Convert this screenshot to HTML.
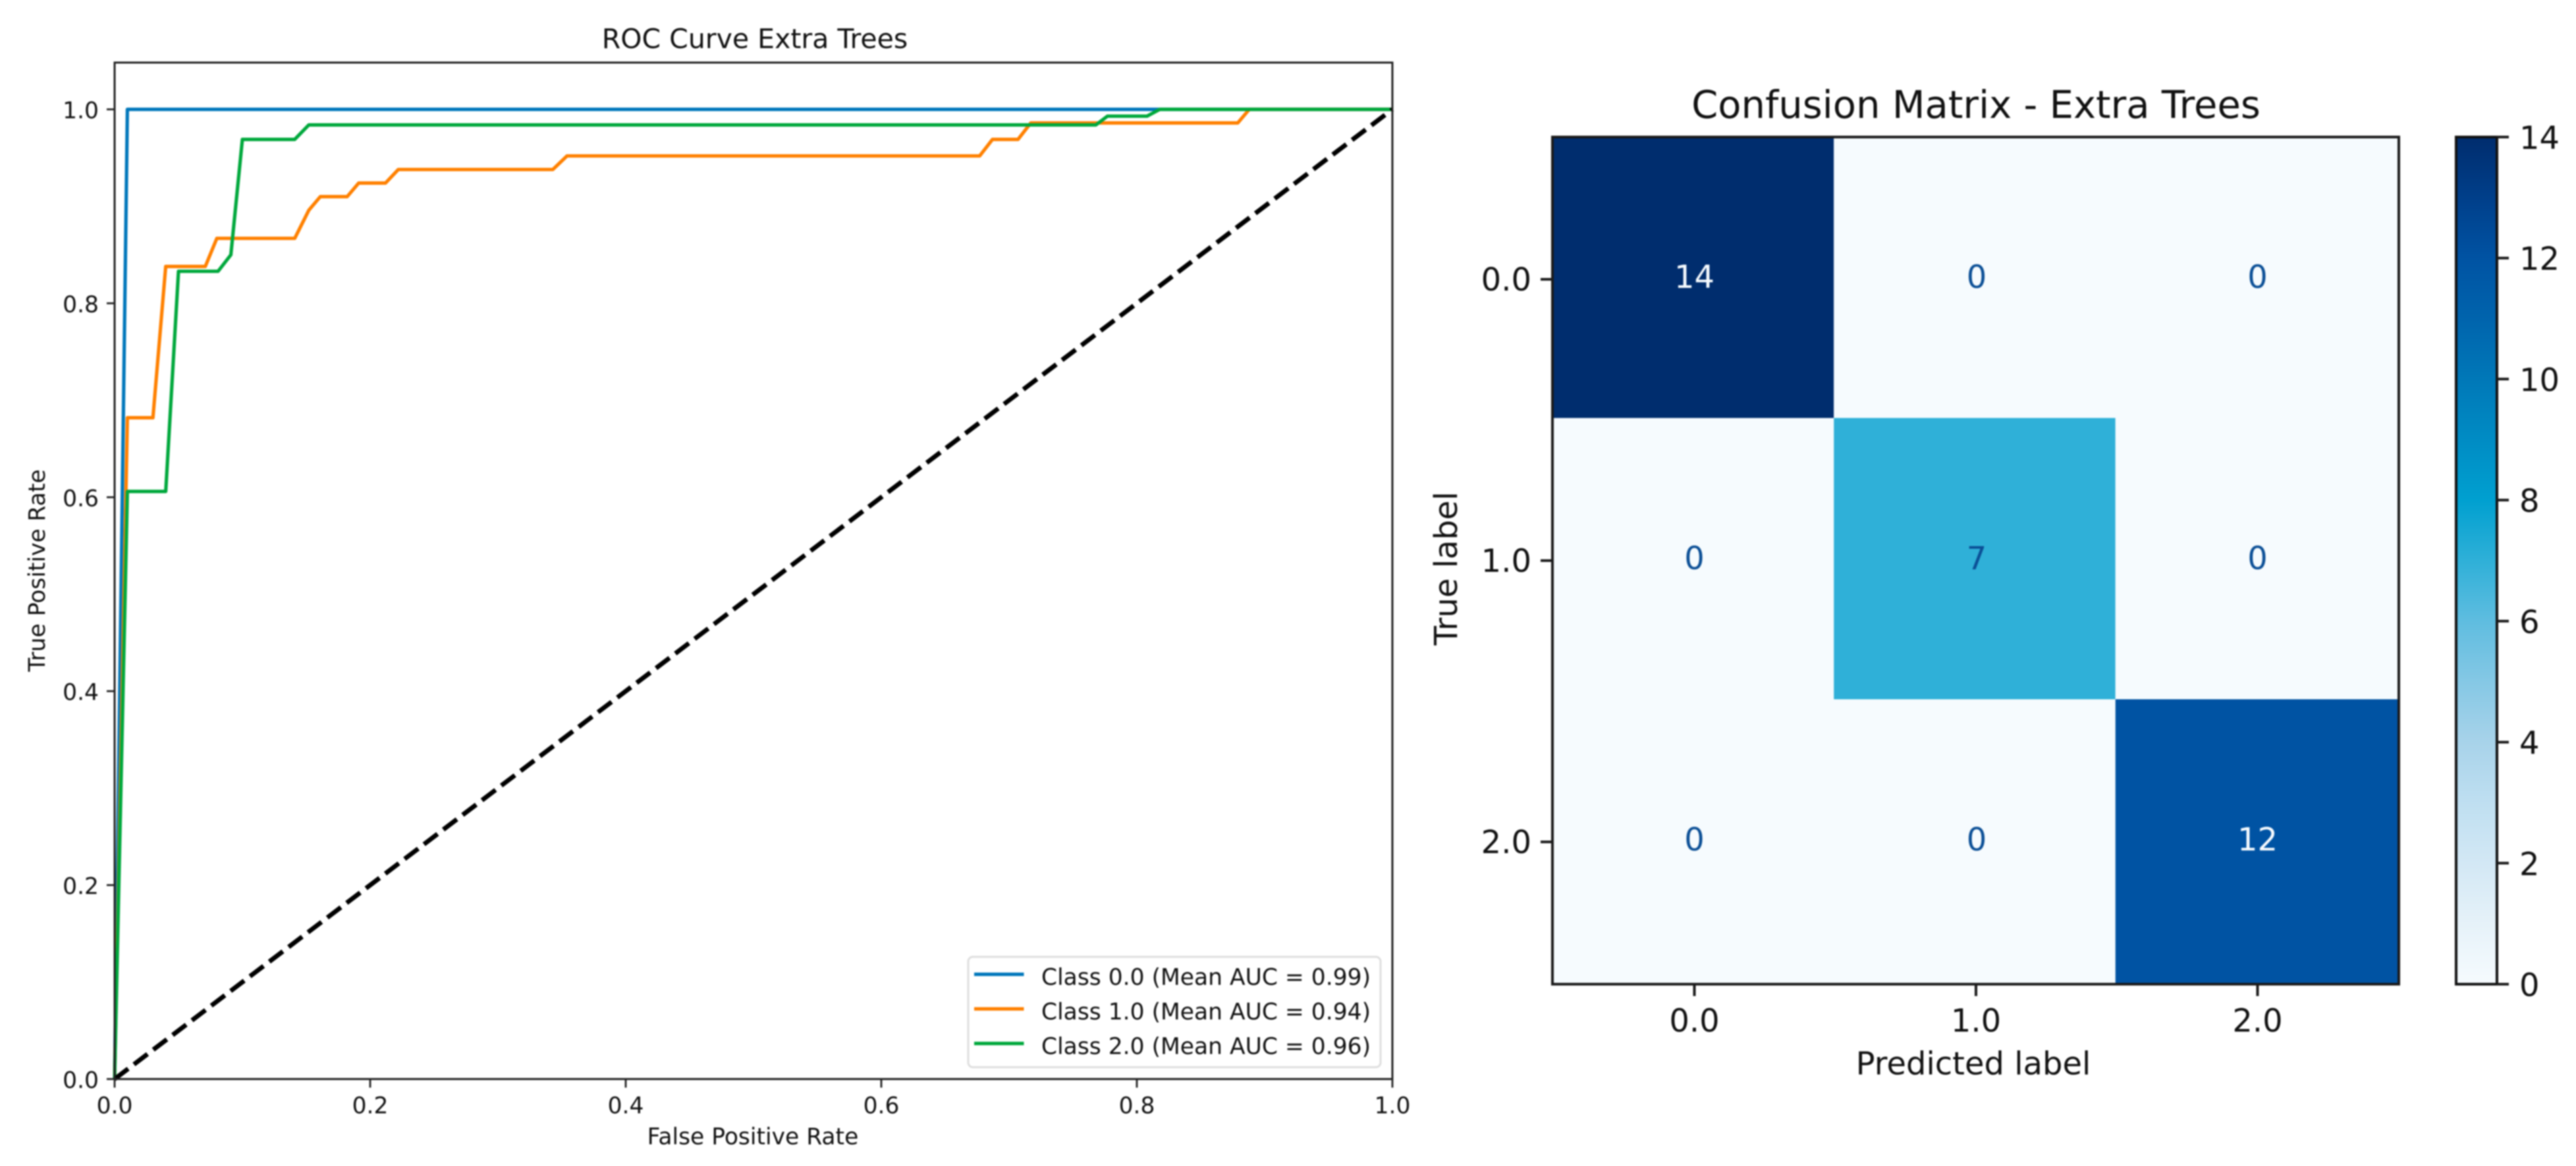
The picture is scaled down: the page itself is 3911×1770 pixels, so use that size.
<!DOCTYPE html>
<html lang="en">
<head>
<meta charset="utf-8">
<title>ROC Curve and Confusion Matrix - Extra Trees</title>
<style>
html,body{margin:0;padding:0;background:#fff;width:3911px;height:1770px;overflow:hidden}
svg{display:block;filter:blur(1px)}
text{font-family:"DejaVu Sans","Liberation Sans",sans-serif;fill:#111}
</style>
</head>
<body>
<svg id="fig" xmlns="http://www.w3.org/2000/svg" width="3911" height="1770" viewBox="0 0 3911 1770">
  <defs>
    <linearGradient id="cbar-gradient" x1="0" y1="1" x2="0" y2="0"></linearGradient>
  </defs>
  <rect x="0" y="0" width="3911" height="1770" fill="#fff"/>

  <g id="roc-panel">
    <text x="1146" y="73" font-size="41" text-anchor="middle">ROC Curve Extra Trees</text>
    <text x="1143" y="1737" font-size="34.5" text-anchor="middle">False Positive Rate</text>
    <text transform="translate(68,866) rotate(-90)" font-size="34.5" text-anchor="middle">True Positive Rate</text>
    <g id="roc-marks"></g>
    <g id="roc-axes"></g>
    <g id="roc-legend"></g>
  </g>

  <g id="cm-panel">
    <text x="3000" y="179" font-size="57.6" text-anchor="middle">Confusion Matrix - Extra Trees</text>
    <text x="2996" y="1631" font-size="48" text-anchor="middle">Predicted label</text>
    <text transform="translate(2212,863) rotate(-90)" font-size="48" text-anchor="middle">True label</text>
    <g id="cm-cells"></g>
    <g id="cm-axes"></g>
    <g id="cbar"></g>
  </g>
</svg>

<script>
// ROC data
const rocTickValues = [0, 0.2, 0.4, 0.6, 0.8, 1.0];
const rocTickLabels = ['0.0', '0.2', '0.4', '0.6', '0.8', '1.0'];
const class0Fpr = [0, 0.01, 0.82, 1];
const class0Tpr = [0, 1, 1, 1];
const class1Fpr = [0, 0.01, 0.03, 0.04, 0.071, 0.08, 0.141, 0.152, 0.161, 0.182, 0.191, 0.212, 0.222, 0.343, 0.354, 0.677, 0.687, 0.707, 0.717, 0.879, 0.888, 1];
const class1Tpr = [0, 0.682, 0.682, 0.838, 0.838, 0.867, 0.867, 0.896, 0.91, 0.91, 0.924, 0.924, 0.938, 0.938, 0.952, 0.952, 0.969, 0.969, 0.986, 0.986, 1, 1];
const class2Fpr = [0, 0.01, 0.04, 0.05, 0.081, 0.091, 0.1, 0.141, 0.152, 0.768, 0.777, 0.808, 0.818, 1];
const class2Tpr = [0, 0.606, 0.606, 0.833, 0.833, 0.85, 0.969, 0.969, 0.984, 0.984, 0.993, 0.993, 1, 1];
const chanceFpr = [0, 1];
const chanceTpr = [0, 1];
const legendLabels = ['Class 0.0 (Mean AUC = 0.99)', 'Class 1.0 (Mean AUC = 0.94)', 'Class 2.0 (Mean AUC = 0.96)'];
const seriesColors = ['#0077bb', '#ff8000', '#00a83c'];

// Confusion matrix data
const cmClasses = ['0.0', '1.0', '2.0'];
const cmRow0 = [14, 0, 0];
const cmRow1 = [0, 7, 0];
const cmRow2 = [0, 0, 12];
const cbarTicks = [0, 2, 4, 6, 8, 10, 12, 14];
const cmapColors = ['#f6fbfe', '#e6f2f9', '#d3e8f5', '#bfdff1', '#a8d3ea', '#85c8e5', '#5fbde0', '#2fb0d8', '#00a0d0', '#008cc4', '#0078b8', '#0064ad', '#0053a3', '#003f8a', '#002d6e'];

const NS = 'http://www.w3.org/2000/svg';
function mk(parent, tag, attrs, txt) {
  const el = document.createElementNS(NS, tag);
  for (const k in attrs) el.setAttribute(k, attrs[k]);
  if (txt !== undefined) el.textContent = txt;
  parent.appendChild(el);
  return el;
}

// ROC axis functions
const rocL = 174, rocR = 2114, rocT = 95, rocB = 1638, rocUnit = 1472;
function xRoc(u) { return rocL + u * (rocR - rocL); }
function yRoc(v) { return rocB - v * rocUnit; }
function rocPath(xs, ys) {
  return xs.map(function (u, i) { return (i ? 'L' : 'M') + xRoc(u).toFixed(1) + ' ' + yRoc(ys[i]).toFixed(1); }).join(' ');
}

const rocMarks = document.getElementById('roc-marks');
const rocAxes = document.getElementById('roc-axes');
const rocLegend = document.getElementById('roc-legend');

const allFpr = [class0Fpr, class1Fpr, class2Fpr];
const allTpr = [class0Tpr, class1Tpr, class2Tpr];
allFpr.forEach(function (xs, i) {
  const line = mk(rocMarks, 'path', { d: rocPath(xs, allTpr[i]), fill: 'none', stroke: seriesColors[i], 'stroke-width': 5.2, 'stroke-linejoin': 'round' });
  
  
});
const chance = mk(rocMarks, 'path', { d: rocPath(chanceFpr, chanceTpr), fill: 'none', stroke: '#000', 'stroke-width': 7, 'stroke-dasharray': '25.9 10.95' });



const rocFrame = mk(rocAxes, 'rect', { x: rocL, y: rocT, width: rocR - rocL, height: rocB - rocT, fill: 'none', stroke: '#222', 'stroke-width': 3 });



rocTickValues.forEach(function (t, i) {
  const xt = mk(rocAxes, 'line', { x1: xRoc(t), x2: xRoc(t), y1: rocB, y2: rocB + 13, stroke: '#222', 'stroke-width': 2.8 });
  
  
  const xl = mk(rocAxes, 'text', { x: xRoc(t), y: 1690, 'font-size': 34.5, 'text-anchor': 'middle' }, rocTickLabels[i]);
  
  
  const yt = mk(rocAxes, 'line', { x1: rocL - 12, x2: rocL, y1: yRoc(t), y2: yRoc(t), stroke: '#222', 'stroke-width': 2.8 });
  
  
  const yl = mk(rocAxes, 'text', { x: 150, y: yRoc(t) + 13.5, 'font-size': 34.5, 'text-anchor': 'end' }, rocTickLabels[i]);
  
  
});

const legendBox = mk(rocLegend, 'rect', { x: 1470, y: 1452.5, width: 626, height: 167.5, rx: 7, fill: '#fff', 'fill-opacity': 0.8, stroke: '#dedede', 'stroke-width': 3 });


legendLabels.forEach(function (label, i) {
  const h = mk(rocLegend, 'line', { x1: 1479, x2: 1554.5, y1: 1479 + 52.5 * i, y2: 1479 + 52.5 * i, stroke: seriesColors[i], 'stroke-width': 5.2 });
  
  
  const t = mk(rocLegend, 'text', { x: 1581, y: 1495 + 52.5 * i, 'font-size': 34.5 }, label);
  
  
});

// Confusion matrix axis functions
const cmL = 2357, cmR = 3642, cmT = 208, cmB = 1494;
function xCm(c) { return 2572.5 + 427.5 * c; }
function yCm(r) { return 424 + 427 * r; }
function hex2rgb(h) { return [parseInt(h.substr(1, 2), 16), parseInt(h.substr(3, 2), 16), parseInt(h.substr(5, 2), 16)]; }
function cmap(v) {
  const p = Math.max(0, Math.min(14, v));
  const i = Math.min(13, Math.floor(p));
  const f = p - i;
  const a = hex2rgb(cmapColors[i]), b = hex2rgb(cmapColors[i + 1]);
  return 'rgb(' + a.map(function (c, k) { return Math.round(c + (b[k] - c) * f); }).join(',') + ')';
}

const cmCells = document.getElementById('cm-cells');
const cmAxes = document.getElementById('cm-axes');
const cbar = document.getElementById('cbar');
const cmMatrix = [cmRow0, cmRow1, cmRow2];

cmMatrix.forEach(function (row, r) {
  row.forEach(function (val, c) {
    const x0 = c === 0 ? cmL : xCm(c - 0.5) - 2;
    const x1 = c === 2 ? cmR : xCm(c + 0.5) - 2;
    const y0 = r === 0 ? cmT : yCm(r - 0.5) - 3;
    const y1 = r === 2 ? cmB : yCm(r + 0.5) - 3;
    const cell = mk(cmCells, 'rect', { x: x0, y: y0, width: x1 - x0, height: y1 - y0, fill: cmap(val) });
    
    
    const lab = mk(cmCells, 'text', { x: xCm(c) + (c === 1 ? 1 : 0), y: yCm(r) + 13, 'font-size': 48, 'text-anchor': 'middle' }, String(val));
    lab.style.fill = val > 7 ? '#f7fbff' : '#0b4f96';
    
    
  });
});

const cmFrame = mk(cmAxes, 'rect', { x: cmL, y: cmT, width: cmR - cmL, height: cmB - cmT, fill: 'none', stroke: '#1a1a1a', 'stroke-width': 4 });



cmClasses.forEach(function (name, i) {
  const xt = mk(cmAxes, 'line', { x1: xCm(i), x2: xCm(i), y1: cmB, y2: cmB + 18, stroke: '#1a1a1a', 'stroke-width': 4 });
  
  
  const xl = mk(cmAxes, 'text', { x: xCm(i), y: 1566, 'font-size': 48, 'text-anchor': 'middle' }, name);
  
  
  const yt = mk(cmAxes, 'line', { x1: cmL - 18, x2: cmL, y1: yCm(i), y2: yCm(i), stroke: '#1a1a1a', 'stroke-width': 4 });
  
  
  const yl = mk(cmAxes, 'text', { x: 2325, y: yCm(i) + 17, 'font-size': 48, 'text-anchor': 'end' }, name);
  
  
});

// Colorbar
const cbL = 3729, cbR = 3791, cbT = 208, cbB = 1494;
function yCbar(v) { return cbB - (v / 14) * (cbB - cbT); }
const grad = document.getElementById('cbar-gradient');
cmapColors.forEach(function (col, i) {
  mk(grad, 'stop', { offset: (i / (cmapColors.length - 1)), 'stop-color': col });
});
const cbRect = mk(cbar, 'rect', { x: cbL, y: cbT, width: cbR - cbL, height: cbB - cbT, fill: 'url(#cbar-gradient)', stroke: '#111', 'stroke-width': 4 });


cbarTicks.forEach(function (v) {
  const t = mk(cbar, 'line', { x1: cbR, x2: cbR + 18, y1: yCbar(v), y2: yCbar(v), stroke: '#1a1a1a', 'stroke-width': 4 });
  
  
  const l = mk(cbar, 'text', { x: 3825, y: yCbar(v) + 18, 'font-size': 48 }, String(v));
  
  
});
</script>
</body>
</html>
